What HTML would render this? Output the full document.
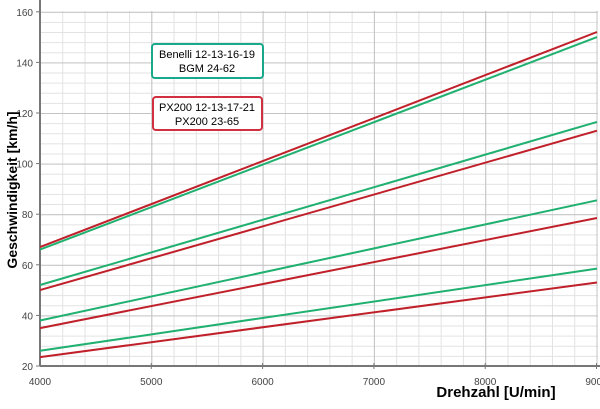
<!DOCTYPE html><html><head><style>body{margin:0;background:#fff}svg{display:block}</style></head><body>
<svg width="600" height="409" xmlns="http://www.w3.org/2000/svg" font-family="Liberation Sans, sans-serif">
<defs>
<pattern id="mn" x="40" y="11.8" width="22.26" height="10.12" patternUnits="userSpaceOnUse"><path d="M0.5 0V10.12M0 0.5H22.26" stroke="#e2e2e2" fill="none"/></pattern>
<pattern id="mj" x="40" y="11.8" width="111.3" height="50.6" patternUnits="userSpaceOnUse"><path d="M0.5 0V50.6M0 0.5H111.3" stroke="#c4c4c4" fill="none"/></pattern>
</defs>
<rect x="40" y="11" width="558" height="355" fill="url(#mn)"/>
<rect x="40" y="11" width="558" height="355" fill="url(#mj)"/>
<line x1="40" y1="0" x2="40" y2="366" stroke="#777" stroke-width="2"/>
<line x1="40" y1="366" x2="600" y2="366" stroke="#777" stroke-width="2"/>
<g stroke="#777">
<line x1="36" y1="366" x2="40" y2="366"/><line x1="36" y1="315.4" x2="40" y2="315.4"/><line x1="36" y1="264.8" x2="40" y2="264.8"/><line x1="36" y1="214.2" x2="40" y2="214.2"/><line x1="36" y1="163.6" x2="40" y2="163.6"/><line x1="36" y1="113" x2="40" y2="113"/><line x1="36" y1="62.4" x2="40" y2="62.4"/><line x1="36" y1="11.8" x2="40" y2="11.8"/>
<line x1="151.3" y1="363" x2="151.3" y2="369"/><line x1="262.6" y1="363" x2="262.6" y2="369"/><line x1="373.9" y1="363" x2="373.9" y2="369"/><line x1="485.2" y1="363" x2="485.2" y2="369"/><line x1="596.5" y1="363" x2="596.5" y2="369"/>
</g>
<g font-size="10" fill="#444" text-anchor="end">
<text x="33" y="370">20</text><text x="33" y="319.4">40</text><text x="33" y="268.8">60</text><text x="33" y="218.2">80</text><text x="33" y="167.6">100</text><text x="33" y="117">120</text><text x="33" y="66.4">140</text><text x="33" y="15.8">160</text>
</g>
<g font-size="10" fill="#444" text-anchor="middle">
<text x="40" y="385">4000</text><text x="151.3" y="385">5000</text><text x="262.6" y="385">6000</text><text x="373.9" y="385">7000</text><text x="485.2" y="385">8000</text><text x="596.5" y="385">9000</text>
</g>
<g stroke-width="2">
<line x1="40" y1="247.1" x2="597" y2="32" stroke="#c0202a"/>
<line x1="40" y1="249.6" x2="597" y2="37.1" stroke="#20b070"/>
<line x1="40" y1="285" x2="597" y2="121.9" stroke="#20b070"/>
<line x1="40" y1="290.1" x2="597" y2="130.7" stroke="#c0202a"/>
<line x1="40" y1="320.5" x2="597" y2="200.3" stroke="#20b070"/>
<line x1="40" y1="328.1" x2="597" y2="218" stroke="#c0202a"/>
<line x1="40" y1="350.8" x2="597" y2="268.6" stroke="#20b070"/>
<line x1="40" y1="357.1" x2="597" y2="282.5" stroke="#c0202a"/>
</g>
<rect x="152" y="44" width="111" height="34" rx="3" fill="#fff" stroke="#1aa88a" stroke-width="2"/>
<text x="207" y="58" font-size="11" text-anchor="middle">Benelli 12-13-16-19</text>
<text x="207" y="72" font-size="11" text-anchor="middle">BGM 24-62</text>
<rect x="153" y="97" width="109" height="33" rx="3" fill="#fff" stroke="#d03040" stroke-width="2"/>
<text x="207" y="111" font-size="11" text-anchor="middle">PX200 12-13-17-21</text>
<text x="207" y="125" font-size="11" text-anchor="middle">PX200 23-65</text>
<text transform="translate(17,190) rotate(-90)" font-size="14" font-weight="bold" text-anchor="middle">Geschwindigkeit [km/h]</text>
<text x="496" y="397" font-size="15" font-weight="bold" text-anchor="middle">Drehzahl [U/min]</text>
</svg></body></html>
